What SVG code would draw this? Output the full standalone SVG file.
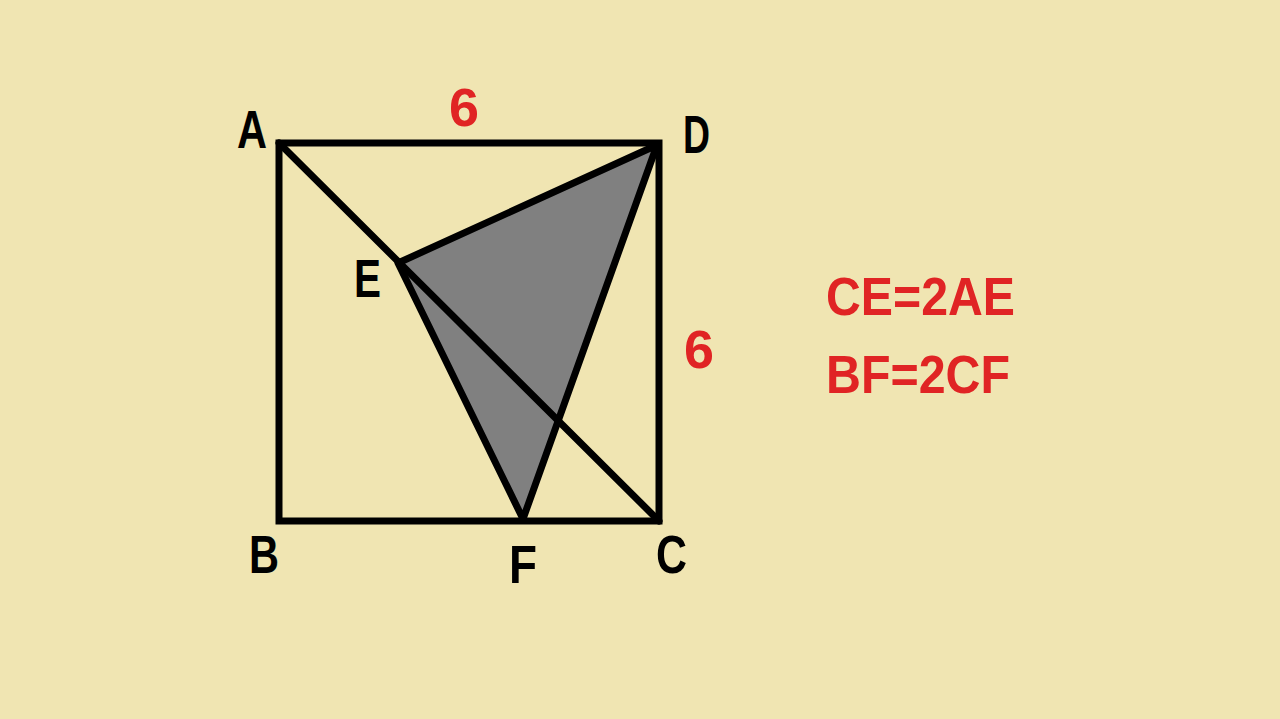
<svg xmlns="http://www.w3.org/2000/svg" width="1280" height="719" viewBox="0 0 1280 719">
<style>
.ln{fill:none;stroke:#000;stroke-width:7;stroke-linejoin:miter;stroke-linecap:round}
.lb{font-family:"Liberation Sans",Arial,sans-serif;font-weight:bold;font-size:54px;fill:#000}
.rd{font-family:"Liberation Sans",Arial,sans-serif;font-weight:bold;font-size:53px;fill:#E02424}
</style>
<rect width="1280" height="719" fill="#F0E5B2"/>
<g id="shaded">
<polygon points="657,145 398,263 523,519" fill="#808080" stroke="#000" stroke-width="7" stroke-linejoin="round"/>
</g>
<g id="square">
<rect x="279" y="143" width="380" height="378" class="ln"/>
</g>
<g id="connectors">
<line x1="279" y1="143" x2="659" y2="521" class="ln"/>
</g>
<g id="labels">
<text class="lb" x="237" y="148" textLength="30" lengthAdjust="spacingAndGlyphs">A</text>
<text class="lb" x="683" y="153" textLength="27" lengthAdjust="spacingAndGlyphs">D</text>
<text class="lb" x="354" y="297" textLength="27" lengthAdjust="spacingAndGlyphs">E</text>
<text class="lb" x="249" y="573" textLength="30" lengthAdjust="spacingAndGlyphs">B</text>
<text class="lb" x="509" y="583" textLength="28" lengthAdjust="spacingAndGlyphs">F</text>
<text class="lb" x="656" y="573" textLength="31" lengthAdjust="spacingAndGlyphs">C</text>
</g>
<g id="values">
<text class="rd" x="449" y="126" textLength="30" lengthAdjust="spacingAndGlyphs">6</text>
<text class="rd" x="684" y="368" textLength="30" lengthAdjust="spacingAndGlyphs">6</text>
<text class="rd" x="826" y="315" textLength="189" lengthAdjust="spacingAndGlyphs">CE=2AE</text>
<text class="rd" x="826" y="393" textLength="184" lengthAdjust="spacingAndGlyphs">BF=2CF</text>
</g>
</svg>
